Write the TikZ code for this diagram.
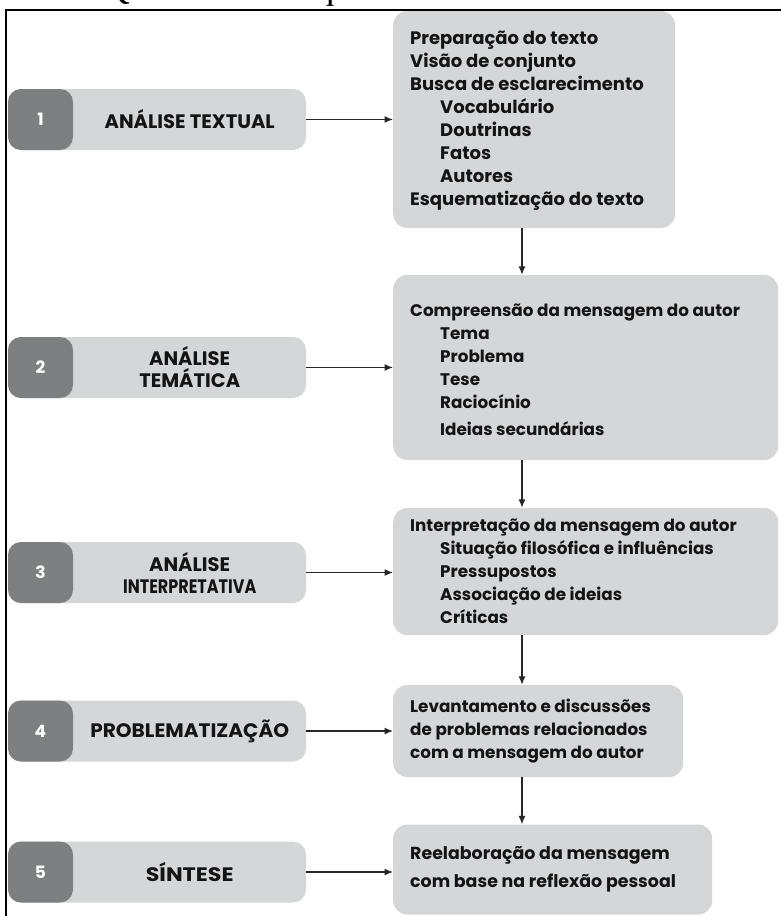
\documentclass[tikz,border=0pt]{standalone}
\usepackage{fontspec}
\setmainfont{Poppins}
\newfontfamily\titlefont{Liberation Serif}
\usetikzlibrary{calc,arrows.meta}
\definecolor{boxgray}{HTML}{D5D6D8}
\definecolor{tabgray}{HTML}{7E7F81}
\definecolor{arrowgray}{HTML}{262626}
\tikzset{
  rbox/.style={fill=boxgray, rounded corners=14pt, inner sep=0pt, anchor=west},
  rtext/.style={anchor=west, align=left, inner sep=0pt, text=black!92,
    font=\bfseries\fontsize{16.8}{23}\selectfont},
  lbox/.style={fill=boxgray, rounded corners=13pt, inner sep=0pt,
    minimum width=298pt, minimum height=61pt},
  ltab/.style={fill=tabgray, rounded corners=13pt, inner sep=0pt, anchor=west,
    minimum width=65pt, minimum height=61pt, text=white,
    font=\bfseries\fontsize{17}{17}\selectfont},
  ltext/.style={align=center, inner sep=0pt, text=black!92,
    font=\bfseries\fontsize{19.5}{22}\selectfont},
  arr/.style={draw=arrowgray, line width=1.3pt, -{Latex[length=8.5pt,width=7pt]}}
}
\newcommand{\ind}{\hspace*{30pt}}
\begin{document}
\begin{tikzpicture}[x=1pt,y=-1pt]
\useasboundingbox (0,0) rectangle (781,916);
\clip (0,0) rectangle (781,916);
\fill[white] (0,0) rectangle (781,916);

% title (cut off at the top, as in the reference)
\node[anchor=base, inner sep=0pt, font=\titlefont\fontsize{37}{37}\selectfont] (title) at (400,-1.5) {Quadro 1 – Esquema da leitura analítica};

% frame
\draw[line width=2pt] (6,920) -- (6,10) -- (785,10);

% right boxes
\node[rbox, minimum width=282pt, minimum height=217pt] (r1) at (393,119.5) {};
\node[rtext, font=\bfseries\fontsize{18}{23}\selectfont] (r1t) at ([xshift=17pt,yshift=-1pt]r1.west) {Preparação do texto\\Visão de conjunto\\Busca de esclarecimento\\\ind Vocabulário\\\ind Doutrinas\\\ind Fatos\\\ind Autores\\Esquematização do texto};

\node[rbox, minimum width=385pt, minimum height=185pt] (r2) at (393,367.5) {};
\node[rtext] (r2t) at ([xshift=17pt,yshift=-2pt]r2.west) {Compreensão da mensagem do autor\\\ind Tema\\\ind Problema\\\ind Tese\\\ind Raciocínio\\[4pt]\ind Ideias secundárias};

\node[rbox, minimum width=385pt, minimum height=127pt] (r3) at (393,571.5) {};
\node[rtext] (r3t) at ([xshift=17pt]r3.west) {Interpretação da mensagem do autor\\\ind Situação filosófica e influências\\\ind Pressupostos\\\ind Associação de ideias\\\ind Críticas};

\node[rbox, minimum width=290pt, minimum height=92pt] (r4) at (393,731) {};
\node[rtext] (r4t) at ([xshift=17pt]r4.west) {Levantamento e discussões\\de problemas relacionados\\com a mensagem do autor};

\node[rbox, minimum width=319pt, minimum height=90pt] (r5) at (393,869.5) {};
\node[rtext, font=\bfseries\fontsize{17.4}{23}\selectfont] (r5t) at ([xshift=17pt]r5.west) {Reelaboração da mensagem\\[5pt]com base na reflexão pessoal};

% left boxes
\foreach \i/\yy/\txt in {1/119.5/{ANÁLISE TEXTUAL},2/367.5/{ANÁLISE\\TEMÁTICA},3/572.5/{ANÁLISE\\\scalebox{0.82}[1]{INTERPRETATIVA}},4/731/{\scalebox{1.03}[1]{PROBLEMATIZAÇÃO}},5/872/{\scalebox{1.14}[1]{SÍNTESE}}}{
  \node[lbox] (l\i) at (157,\yy) {};
  \node[ltab] (t\i) at (l\i.west) {\i};
  \node[ltext] (lt\i) at ($(t\i.east)!0.5!(l\i.east)$) {\txt};
}

% horizontal arrows
\draw[arr] (l1.east) -- (l1.east -| r1.west);
\draw[arr] (l2.east) -- (l2.east -| r2.west);
\draw[arr] (l3.east) -- (l3.east -| r3.west);
\draw[arr] (l4.east) -- (l4.east -| r4.west);
\draw[arr] (l5.east) -- (l5.east -| r5.west);

% vertical arrows
\coordinate (vx) at (522,0);
\draw[arr] (r1.south -| vx) -- (r2.north -| vx);
\draw[arr] (r2.south -| vx) -- (r3.north -| vx);
\draw[arr] (r3.south -| vx) -- (r4.north -| vx);
\draw[arr] (r4.south -| vx) -- (r5.north -| vx);
\end{tikzpicture}
\end{document}
